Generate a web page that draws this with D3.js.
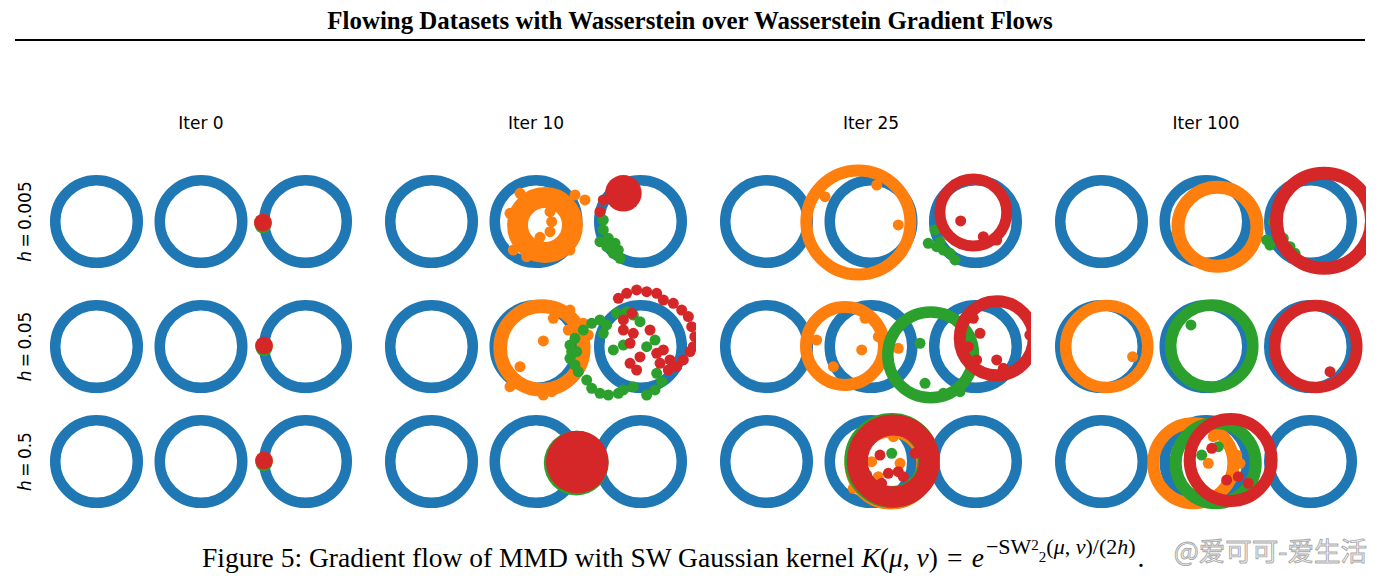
<!DOCTYPE html>
<html><head><meta charset="utf-8">
<script src="https://cdn.jsdelivr.net/npm/d3@7"></script>
<style>body{margin:0;background:#fff}svg{display:block}</style>
</head><body>
<svg id="chart" width="1381" height="582"></svg>
<script>
// ---------------- data ----------------
const iterLabels = ["Iter 0", "Iter 10", "Iter 25", "Iter 100"];
const stepLabels = ["0.005", "0.05", "0.5"];
const targetCentersX = [-10, 0, 10];   // blue target rings (x), y = 0
const targetRadius = 3.95;

// colored datasets approximated as rings: [row, col, x, y, radius, spread]
const orangeRings = [
  [0,1, 0.86,-0.33, 2.63, 2.0],
  [0,2, -1.21,-0.10, 4.98, 1.15],
  [0,3, 1.10,-0.50, 3.78, 1.25],
  [1,1, 0.57,-0.14, 4.0, 1.3],
  [1,2, -2.49,0.05, 3.73, 1.15],
  [1,3, -9.5,0.0, 3.93, 1.1],
  [2,2, 1.9,-0.15, 3.44, 2.0],
  [2,3, -1.21,-0.17, 3.83, 1.15]
];
const greenRings = [
  [1,2, 5.71,-0.81, 4.1, 1.1],
  [1,3, 0.55,0.05, 3.93, 1.1],
  [2,2, 2.0,0.1, 3.5, 2.1],
  [2,3, 0.93,-0.17, 3.83, 1.15]
];
const redRings = [
  [0,2, 9.79,0.86, 3.2, 1.05],
  [0,3, 11.29,0.07, 4.55, 1.25],
  [1,2, 12.03,0.78, 3.54, 1.15],
  [1,3, 10.5,0.0, 3.93, 1.1],
  [2,2, 2.14,0.05, 3.44, 2.0],
  [2,3, 2.36,0.14, 3.92, 1.15]
];
// dense clusters: [row, col, x, y, radius]
const orangeBlobs = [[0,0,5.93,-0.14,0.85],[1,0,6.03,0.05,0.85],[2,0,6.03,0.05,0.85],[2,1,3.9,-0.1,3.0]];
const greenBlobs  = [[0,0,5.93,-0.34,0.8],[1,0,6.03,-0.15,0.8],[2,0,6.03,-0.15,0.8],[2,1,3.85,-0.15,3.1]];
const redBlobs    = [[0,0,5.93,-0.1,0.85],[1,0,6.03,0.1,0.85],[2,0,6.03,0.1,0.85],[0,1,8.36,2.7,1.75],[2,1,3.95,-0.05,3.0]];

// individual particles: [row, col, x, y]
const orangePoints = [
  [0,1,4.69,2.06],[0,1,3.73,2.54],[0,1,1.34,0.94],[0,1,1.5,-0.02],[0,1,1.34,-0.97],[0,1,0.38,-1.51],
  [0,1,-2.49,0.78],[0,1,-2.17,-2.73],[0,1,-0.89,-3.37],[0,1,3.25,-2.73],[0,1,3.57,-0.81],[0,1,-1.53,2.7],
  [0,2,2.61,-0.33],[0,2,0.55,3.49],[0,2,-4.4,2.37],
  [1,1,1.66,2.7],[1,1,3.09,1.58],[1,1,0.7,0.53],[1,1,-1.53,-1.93],[1,1,4.53,2.22],[1,1,5.0,1.1],[1,1,3.25,3.49],
  [1,1,-2.49,-3.85],[1,1,0.7,-4.64],[1,1,1.5,-4.32],[1,1,-3.28,-0.02],[1,1,-3.13,-1.93],
  [1,2,-0.89,-0.33],[1,2,-0.57,2.7],[1,2,0.7,0.94],[1,2,-3.6,-1.93],[1,2,2.61,-0.17],[1,2,-5.2,0.62],
  [1,3,-7.02,-0.98],
  [2,1,2.78,0.62],[2,1,2.3,-0.5],
  [2,2,2.14,2.37],[2,2,0.06,-0.02],[2,2,2.78,-0.17],[2,2,0.7,-1.45],[2,2,-1.69,-2.57],
  [2,3,0.7,2.37],[2,3,0.22,-0.17],[2,3,2.94,0.62],[2,3,3.25,-0.17],[2,3,1.82,-2.41],[2,3,2.0,-1.9]
];
const greenPoints = [
  [0,1,6.44,0.14],[0,1,6.44,-0.81],[0,1,6.12,-1.93],[0,1,6.92,-1.61],[0,1,7.56,-2.09],[0,1,7.88,-2.73],
  [0,1,8.04,-3.52],[0,1,7.4,-3.04],[0,1,6.77,-2.41],
  [0,2,5.48,-2.09],[0,2,6.29,-2.41],[0,2,6.92,-2.73],[0,2,7.56,-3.04],[0,2,8.04,-3.68],[0,2,6.6,-1.93],[0,2,6.12,-0.81],
  [0,3,6.44,-0.02],[0,3,6.92,-0.81],[0,3,6.12,-2.25],[0,3,7.4,-1.61],[0,3,8.04,-2.41],[0,3,8.52,-3.04],[0,3,5.8,-1.77],
  [1,1,3.25,0.14],[1,1,3.41,-0.49],[1,1,3.25,-1.13],[1,1,3.73,-1.77],[1,1,4.05,-2.41],[1,1,4.85,-3.21],
  [1,1,5.33,-4.0],[1,1,6.12,-4.48],[1,1,6.92,-4.64],[1,1,7.88,-4.48],[1,1,8.36,-4.16],[1,1,9.31,-3.85],
  [1,1,10.59,-4.64],[1,1,11.39,-4.16],[1,1,12.03,-3.37],[1,1,11.55,-2.57],[1,1,3.73,0.78],[1,1,4.53,1.58],
  [1,1,5.33,2.22],[1,1,6.12,2.54],[1,1,6.76,2.06],[1,1,7.72,3.18],[1,1,8.68,3.33],[1,1,9.31,3.01],
  [1,1,9.95,2.37],[1,1,6.44,1.26],[1,1,7.4,-0.33],[1,1,8.36,0.14],[1,1,10.59,-0.02],[1,1,11.39,0.62],[1,1,3.89,-0.49],
  [1,2,4.69,0.31],[1,2,5.17,-3.52],[1,2,6.92,-4.48],[1,2,8.52,-4.32],
  [1,3,-1.44,2.06],
  [2,1,2.46,0.14],[2,1,4.21,0.78],[2,1,5.0,-1.13],
  [2,2,1.98,0.78],[2,2,0.22,2.37],[2,2,-0.41,-1.29],[2,2,3.89,-2.09],
  [2,3,-0.41,0.62],[2,3,1.18,1.42]
];
const redPoints = [
  [0,1,6.44,2.06],[0,1,6.12,0.94],
  [0,2,8.58,0.05],[0,2,10.75,-1.45],[0,2,12.03,-1.77],
  [1,1,7.88,4.61],[1,1,8.68,5.09],[1,1,9.63,5.41],[1,1,10.59,5.25],[1,1,11.55,5.09],[1,1,12.19,4.45],
  [1,1,13.14,4.13],[1,1,13.94,3.49],[1,1,14.58,2.86],[1,1,14.9,1.9],[1,1,15.2,0.94],[1,1,15.05,-0.02],
  [1,1,14.74,-0.49],[1,1,14.1,-1.29],[1,1,13.46,-1.93],[1,1,12.66,-2.25],[1,1,11.87,-1.61],[1,1,11.55,-0.65],
  [1,1,12.19,-0.33],[1,1,12.82,-1.29],[1,1,9.16,3.18],[1,1,8.36,1.58],[1,1,9.31,1.26],[1,1,9.0,0.31],
  [1,1,10.91,1.58],[1,1,9.95,-1.0],[1,1,9.0,-1.61],[1,1,9.63,-2.25],[1,1,8.36,2.54],
  [1,2,9.79,2.7],[1,2,10.43,1.26],[1,2,9.31,-0.02],[1,2,10.11,-1.29],[1,2,12.03,-1.29],[1,2,12.66,-2.09],[1,2,15.2,1.1],
  [1,3,11.87,-2.41],
  [2,1,3.25,0.31],
  [2,2,0.86,0.62],[2,2,1.66,-1.13],[2,2,2.61,-0.97],[2,2,3.09,-1.45],[2,2,1.02,-2.09],[2,2,4.21,0.78],
  [2,3,0.55,1.26],[2,3,1.98,-1.77],[2,3,3.09,-1.45],[2,3,4.05,-2.09]
];

// ---------------- layout ----------------
const svg = d3.select("#chart");
const colCenters = [201, 536, 871, 1206];
const rowCenters = [221.5, 346.5, 461.5];
const halfW = 160, pxPerUnit = 10.45;
const COLORS = {blue:"#1f77b4", orange:"#ff7f0e", green:"#2ca02c", red:"#d62728"};
const PT = 5.5;

function scales(r, c) {
  const d = halfW / pxPerUnit;
  const x = d3.scaleLinear().domain([-d, d]).range([colCenters[c]-halfW, colCenters[c]+halfW]);
  const y = d3.scaleLinear().domain([-d, d]).range([rowCenters[r]+halfW, rowCenters[r]-halfW]);
  return {x, y};
}

// title
svg.append("text").attr("x", 690).attr("y", 29).attr("text-anchor","middle")
  .attr("font-family","'Liberation Serif', 'Times New Roman', serif").attr("font-weight","bold")
  .attr("font-size", 24.9).text("Flowing Datasets with Wasserstein over Wasserstein Gradient Flows");
svg.append("line").attr("x1",15).attr("x2",1365).attr("y1",40).attr("y2",40)
  .attr("stroke","#000").attr("stroke-width",2.2);

const defs = svg.append("defs");
const layers = [
  {color: COLORS.orange, rings: orangeRings, blobs: orangeBlobs, pts: orangePoints},
  {color: COLORS.green,  rings: greenRings,  blobs: greenBlobs,  pts: greenPoints},
  {color: COLORS.red,    rings: redRings,    blobs: redBlobs,    pts: redPoints}
];

for (let r = 0; r < 3; r++) {
  for (let c = 0; c < 4; c++) {
    const {x, y} = scales(r, c);
    const id = `clip-${r}-${c}`;
    defs.append("clipPath").attr("id", id).append("rect")
      .attr("x", x.range()[0]).attr("width", x.range()[1]-x.range()[0])
      .attr("y", rowCenters[r]-70).attr("height", 140);
    const g = svg.append("g").attr("clip-path", `url(#${id})`);
    g.selectAll("circle.target").data(targetCentersX).join("circle")
      .attr("class","target").attr("cx", d => x(d)).attr("cy", y(0))
      .attr("r", targetRadius*pxPerUnit).attr("fill","none")
      .attr("stroke", COLORS.blue).attr("stroke-width", 10.5);
    layers.forEach(L => {
      g.selectAll(null).data(L.rings.filter(d => d[0]===r && d[1]===c)).join("circle")
        .attr("cx", d => x(d[2])).attr("cy", d => y(d[3]))
        .attr("r", d => d[4]*pxPerUnit).attr("fill","none")
        .attr("stroke", L.color).attr("stroke-width", d => d[5]*pxPerUnit);
      g.selectAll(null).data(L.blobs.filter(d => d[0]===r && d[1]===c)).join("circle")
        .attr("cx", d => x(d[2])).attr("cy", d => y(d[3]))
        .attr("r", d => d[4]*pxPerUnit).attr("fill", L.color);
      g.selectAll(null).data(L.pts.filter(d => d[0]===r && d[1]===c)).join("circle")
        .attr("cx", d => x(d[2])).attr("cy", d => y(d[3]))
        .attr("r", PT).attr("fill", L.color);
    });
  }
}

// column titles
svg.selectAll("text.iter").data(iterLabels).join("text").attr("class","iter")
  .attr("x", (d,i) => colCenters[i]).attr("y", 129).attr("text-anchor","middle")
  .attr("font-family","'DejaVu Sans', sans-serif").attr("font-size", 17).text(d => d);

// row labels
const rl = svg.selectAll("text.step").data(stepLabels).join("text").attr("class","step")
  .attr("transform", (d,i) => `translate(31,${rowCenters[i]}) rotate(-90)`)
  .attr("text-anchor","middle")
  .attr("font-family","'DejaVu Sans', sans-serif").attr("font-size", 17);
rl.append("tspan").attr("font-style","italic").text("h");
rl.append("tspan").text(d => "\u2009=\u2009" + d);

// caption
const cap = svg.append("text").attr("x", 202).attr("y", 567)
  .attr("font-family","'Liberation Serif', 'Times New Roman', serif").attr("font-size", 27.5);
cap.append("tspan").text("Figure 5: Gradient flow of MMD with SW Gaussian kernel ");
cap.append("tspan").attr("font-style","italic").text("K");
cap.append("tspan").text("(");
cap.append("tspan").attr("font-style","italic").text("μ");
cap.append("tspan").text(", ");
cap.append("tspan").attr("font-style","italic").text("ν");
cap.append("tspan").text(")\u2004=\u2004");
cap.append("tspan").attr("font-style","italic").text("e");
cap.append("tspan").attr("font-size", 22).attr("dx", 2).attr("dy", -13).text("−SW");
cap.append("tspan").attr("font-size", 15).attr("dy", -4).text("2");
cap.append("tspan").attr("font-size", 15).attr("dy", 12).text("2");
cap.append("tspan").attr("font-size", 22).attr("dy", -8).text("(");
cap.append("tspan").attr("font-size", 22).attr("font-style","italic").text("μ");
cap.append("tspan").attr("font-size", 22).text(", ");
cap.append("tspan").attr("font-size", 22).attr("font-style","italic").text("ν");
cap.append("tspan").attr("font-size", 22).text(")/(2");
cap.append("tspan").attr("font-size", 22).attr("font-style","italic").text("h");
cap.append("tspan").attr("font-size", 22).text(")");
cap.append("tspan").attr("dy", 13).attr("dx", 2).text(".");

// watermark
svg.append("text").attr("x", 1367).attr("y", 561).attr("text-anchor","end")
  .attr("font-family","'Noto Sans CJK SC', sans-serif").attr("font-size", 26.5)
  .attr("fill","#f0f0f0").attr("fill-opacity",0.7).attr("stroke","#8a8a8a").attr("stroke-width",0.9)
  .attr("stroke-opacity",0.75).text("@爱可可-爱生活");
</script>
</body></html>
